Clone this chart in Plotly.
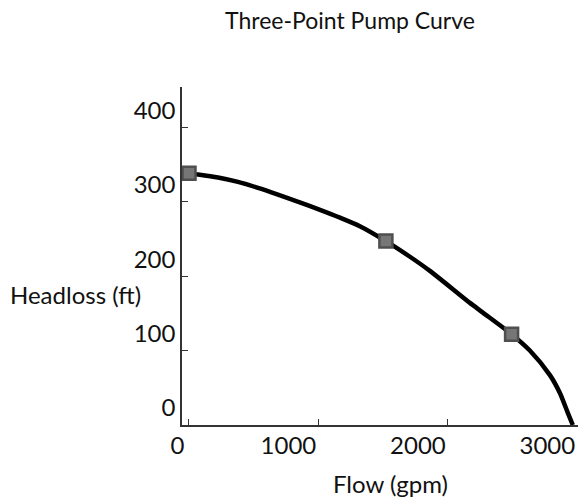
import plotly.graph_objects as go

# Pump curve
flow = [0, 70, 224, 378, 533, 687, 850, 1012, 1166, 1320, 1521, 1707, 1861,
        2170, 2270, 2492, 2633, 2788, 2865, 2927, 2965]
head = [338, 336.5, 332.5, 326.5, 318.5, 309.5, 299.5, 289, 278.5, 267, 247, 226, 207,
        164, 151, 122, 100, 67, 43, 16, 0]

# The three defining points
point_flow = [0, 1521, 2492]
point_head = [338, 247, 122]

x_ticks = [0, 1000, 2000, 3000]
x_tick_labels = ["\u00a0" * 6 + "0", "1000", "2000", "3000"]
y_ticks = [0, 100, 200, 300, 400]

FONT = "Lato"
INK = "#111111"

fig = go.Figure()
fig.add_trace(go.Scatter(
    x=flow, y=head, mode="lines",
    line=dict(color="black", width=4.5, shape="spline", smoothing=0.7),
    cliponaxis=False, hoverinfo="skip", showlegend=False,
))
fig.add_trace(go.Scatter(
    x=point_flow, y=point_head, mode="markers",
    marker=dict(symbol="square", size=13, color="#767676",
                line=dict(color="#4f4f4f", width=2.5)),
    cliponaxis=False, showlegend=False,
))

fig.update_layout(
    width=578, height=501,
    margin=dict(l=182, r=0, t=87, b=76, autoexpand=False),
    paper_bgcolor="white", plot_bgcolor="white",
    font=dict(family=FONT, color=INK),
    title=dict(text="Three-Point Pump Curve", x=350/578, xanchor="center",
               y=1 - 21/501, yanchor="middle", yref="container",
               font=dict(size=23, family=FONT, color=INK)),
    xaxis=dict(range=[-54, 3005], tickvals=x_ticks, ticktext=x_tick_labels,
               ticks="inside", ticklen=6,
               tickcolor="#333333", showline=True, linecolor="#333333", linewidth=1.5,
               showgrid=False, zeroline=False, ticklabelshift=-30, ticklabelstandoff=-2,
               automargin=False,
               tickfont=dict(size=24, family=FONT, color=INK)),
    yaxis=dict(range=[0, 454], tickvals=y_ticks, ticks="inside", ticklen=6,
               tickcolor="#333333", showline=True, linecolor="#333333", linewidth=1.5,
               showgrid=False, zeroline=False, ticklabelshift=-17, automargin=False,
               tickfont=dict(size=24, family=FONT, color=INK)),
    annotations=[
        dict(text="Headloss (ft)", xref="paper", yref="paper",
             x=-174/396, y=131/338, xanchor="left", yanchor="middle",
             showarrow=False, font=dict(size=24, family=FONT, color=INK)),
        dict(text="Flow (gpm)", xref="paper", yref="paper",
             x=208/396, y=-59/338, xanchor="center", yanchor="middle",
             showarrow=False, font=dict(size=24, family=FONT, color=INK)),
    ],
)

fig.write_html("out.html", config={"displayModeBar": False},
               post_script="document.body.style.margin='0';document.body.style.overflow='hidden';")
